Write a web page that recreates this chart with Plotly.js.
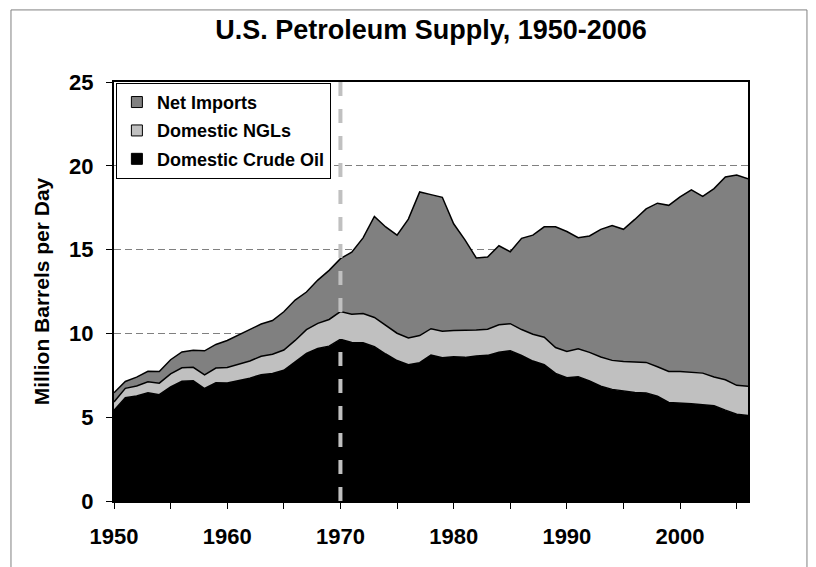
<!DOCTYPE html>
<html>
<head>
<meta charset="utf-8">
<script src="https://cdn.plot.ly/plotly-3.0.1.min.js"></script>
<style>html,body{margin:0;padding:0;background:#fff}#chart{width:816px;height:567px}</style>
</head>
<body>
<div id="chart"></div>
<script>
// Years (x categories)
var years = [1950,1951,1952,1953,1954,1955,1956,1957,1958,1959,
             1960,1961,1962,1963,1964,1965,1966,1967,1968,1969,
             1970,1971,1972,1973,1974,1975,1976,1977,1978,1979,
             1980,1981,1982,1983,1984,1985,1986,1987,1988,1989,
             1990,1991,1992,1993,1994,1995,1996,1997,1998,1999,
             2000,2001,2002,2003,2004,2005,2006];
// Million barrels per day
var crudeOil = [5.41,6.16,6.26,6.46,6.34,6.81,7.15,7.17,6.71,7.05,
                7.04,7.18,7.33,7.54,7.61,7.80,8.30,8.81,9.10,9.24,
                9.64,9.46,9.44,9.21,8.77,8.38,8.13,8.25,8.71,8.55,
                8.60,8.57,8.65,8.69,8.88,8.97,8.68,8.35,8.14,7.61,
                7.36,7.42,7.17,6.85,6.66,6.56,6.47,6.45,6.25,5.88,
                5.82,5.80,5.75,5.68,5.42,5.18,5.10];
var ngls = [0.50,0.56,0.60,0.65,0.69,0.77,0.80,0.81,0.81,0.88,
            0.93,0.99,1.02,1.10,1.15,1.21,1.28,1.41,1.50,1.59,
            1.66,1.69,1.74,1.74,1.69,1.63,1.60,1.62,1.57,1.58,
            1.57,1.61,1.55,1.56,1.63,1.61,1.55,1.60,1.63,1.55,
            1.56,1.66,1.70,1.74,1.73,1.76,1.83,1.82,1.76,1.85,
            1.91,1.87,1.88,1.72,1.81,1.72,1.74];
var netImports = [0.55,0.41,0.53,0.63,0.70,0.85,0.94,1.02,1.44,1.41,
                  1.61,1.74,1.91,1.92,2.01,2.28,2.41,2.25,2.58,2.93,
                  3.16,3.70,4.52,6.03,5.89,5.85,7.09,8.57,8.00,7.99,
                  6.37,5.40,4.30,4.31,4.72,4.29,5.44,5.91,6.59,7.20,
                  7.16,6.63,6.94,7.62,8.05,7.89,8.50,9.16,9.76,9.91,
                  10.42,10.90,10.55,11.24,12.10,12.55,12.39];
var seriesNames = ['Domestic Crude Oil','Domestic NGLs','Net Imports'];
var xTickVals = [1950,1960,1970,1980,1990,2000];
var xTickText = ['1950','1960','1970','1980','1990','2000'];
var yTickVals = [0,5,10,15,20,25];
var yTickText = ['0','5','10','15','20','25'];
var markerYear = 1970;

var FONT = '"Liberation Sans", Arial, Helvetica, sans-serif';
var fills = ['#000000','#c0c0c0','#808080'];
var seriesData = [crudeOil, ngls, netImports];

var traces = seriesData.map(function(vals, i){
  return {
    type:'scatter', mode:'lines', x:years, y:vals, name:seriesNames[i],
    stackgroup:'one', fillcolor:fills[i], showlegend:false,
    line:{color:'#000', width:1.5}, hoverinfo:'skip'
  };
});
// legend entries (square swatches like the original), top-of-stack first
seriesNames.forEach(function(nm, i){
  traces.push({
    type:'scatter', mode:'markers', x:[null], y:[null], name:nm,
    legendgroup:'g'+i, legendrank:10 - i, showlegend:true, hoverinfo:'skip',
    marker:{symbol:'square', size:11, color:fills[i], line:{color:'#000', width:1}}
  });
});

var layout = {
  width:816, height:567,
  margin:{l:114, r:68, t:82, b:66},
  paper_bgcolor:'#fff', plot_bgcolor:'#fff',
  font:{family:FONT, color:'#000'},
  title:{text:'U.S. Petroleum Supply, 1950-2006', font:{family:FONT, size:27, weight:'bold', color:'#000'},
         x:0.5, xref:'paper', xanchor:'center', y:1-30/567, yref:'container', yanchor:'middle'},
  xaxis:{range:[1950,2006], tickmode:'array', tickvals:xTickVals, ticktext:xTickText,
         ticks:'outside', ticklen:6, tickwidth:1, tickcolor:'#000', ticklabelstandoff:9,
         minor:{tickmode:'linear', tick0:1950, dtick:5, ticks:'outside', ticklen:6, tickwidth:1, tickcolor:'#000', showgrid:false},
         showline:true, linecolor:'#000', linewidth:2, mirror:true,
         showgrid:false, zeroline:false,
         tickfont:{family:FONT, size:22, weight:'bold', color:'#000'}},
  yaxis:{range:[0,25], tickmode:'array', tickvals:yTickVals, ticktext:yTickText,
         ticks:'outside', ticklen:6, tickwidth:1, tickcolor:'#000', ticklabelstandoff:8,
         showline:true, linecolor:'#000', linewidth:2, mirror:true,
         showgrid:true, gridcolor:'#808080', gridwidth:1, griddash:'7px,4px', zeroline:false,
         tickfont:{family:FONT, size:22, weight:'bold', color:'#000'},
         title:{text:'Million Barrels per Day', font:{family:FONT, size:21, weight:'bold', color:'#000'}, standoff:14}},
  legend:{x:0.003, y:0.998, xanchor:'left', yanchor:'top', traceorder:'grouped',
          bgcolor:'#fff', bordercolor:'#000', borderwidth:1, itemwidth:30,
          font:{family:FONT, size:18, weight:'bold', color:'#000'}, tracegroupgap:2},
  showlegend:true,
  shapes:[
    {type:'line', xref:'x', yref:'paper', x0:markerYear, x1:markerYear, y0:0, y1:1,
     line:{color:'#c0c0c0', width:4, dash:'14px,13px'}, layer:'above'},
    {type:'rect', xref:'paper', yref:'paper', x0:-0.1625, x1:1.093, y0:-0.17, y1:1.172,
     line:{color:'#808080', width:1}, fillcolor:'rgba(0,0,0,0)', layer:'below'}
  ]
};

Plotly.newPlot('chart', traces, layout, {staticPlot:true, displayModeBar:false});
</script>
</body>
</html>
